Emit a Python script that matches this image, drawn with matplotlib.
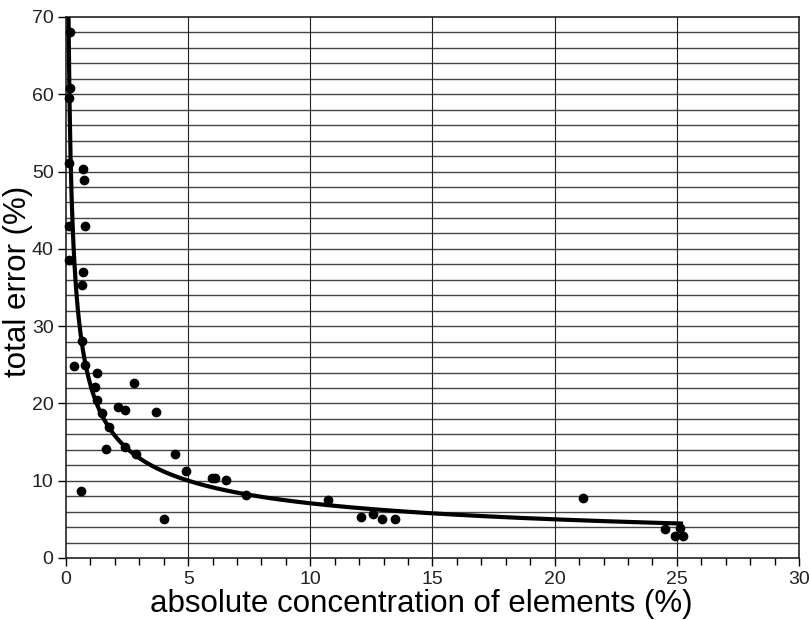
import matplotlib
matplotlib.use('Agg')

import numpy as np
import matplotlib.pyplot as plt
from matplotlib.ticker import MultipleLocator

# measured concentration (%) and total error (%) per element
conc = [0.16, 0.16, 0.12, 0.14, 0.68, 0.74, 0.79, 0.11, 0.12, 0.68, 0.67,
        0.64, 0.33, 0.76, 1.27, 1.17, 2.80, 1.28, 2.14, 2.43, 3.67, 1.46,
        1.75, 1.64, 2.42, 2.87, 4.45, 4.91, 5.98, 6.09, 6.55, 7.37, 0.63,
        4.02, 10.71, 12.06, 12.55, 12.95, 13.47, 21.18, 24.52, 25.15,
        24.93, 25.27]
error = [68.0, 60.8, 59.5, 51.1, 50.3, 48.9, 42.9, 43.0, 38.5, 37.0, 35.3,
         28.1, 24.9, 25.0, 23.9, 22.1, 22.7, 20.4, 19.6, 19.2, 18.9, 18.7,
         16.9, 14.1, 14.4, 13.5, 13.5, 11.3, 10.3, 10.3, 10.1, 8.2, 8.7,
         5.1, 7.5, 5.3, 5.7, 5.0, 5.0, 7.7, 3.8, 3.9, 2.9, 2.8]

x = np.array(conc)
y = np.array(error)

# power-law trend y = a * x^b, fitted in log-log space
b, log_a = np.polyfit(np.log(x), np.log(y), 1)
a = np.exp(log_a)
x_start = (70.0 / a) ** (1.0 / b)
xf = np.linspace(x_start, 25.17, 600)
yf = a * xf ** b

plt.rcParams['font.family'] = ['Liberation Sans', 'DejaVu Sans']

fig = plt.figure(figsize=(8.09, 6.20), dpi=100)
ax = fig.add_axes([0.0816, 0.1, 0.906, 0.8726])

ax.set_xlim(0, 30)
ax.set_ylim(0, 70)

for yy in np.arange(2, 70, 2):
    ax.axhline(yy, color='#444444', lw=1.0, zorder=1)
for xx in [5, 10, 15, 20, 25]:
    ax.axvline(xx, color='#222222', lw=0.8, zorder=1)

ax.plot(xf, yf, color='black', lw=3, zorder=3)
ax.scatter(x, y, s=36, color='black', zorder=4, clip_on=False)

ax.xaxis.set_major_locator(MultipleLocator(5))
ax.xaxis.set_minor_locator(MultipleLocator(1))
ax.yaxis.set_major_locator(MultipleLocator(10))
ax.tick_params(axis='both', which='major', direction='out', length=6,
               width=1, labelsize=14, pad=3, labelcolor='#222222')
ax.tick_params(axis='x', which='minor', direction='out', length=5, width=1)

for s in ax.spines.values():
    s.set_linewidth(1.2)
    s.set_color('#222222')

ax.set_xlabel('absolute concentration of elements (%)', fontsize=22.5)
ax.set_ylabel('total error (%)', fontsize=22.5)
ax.xaxis.set_label_coords(0.485, -0.058)
ax.yaxis.set_label_coords(-0.045, 0.512)

plt.savefig('out.png', dpi=100)
